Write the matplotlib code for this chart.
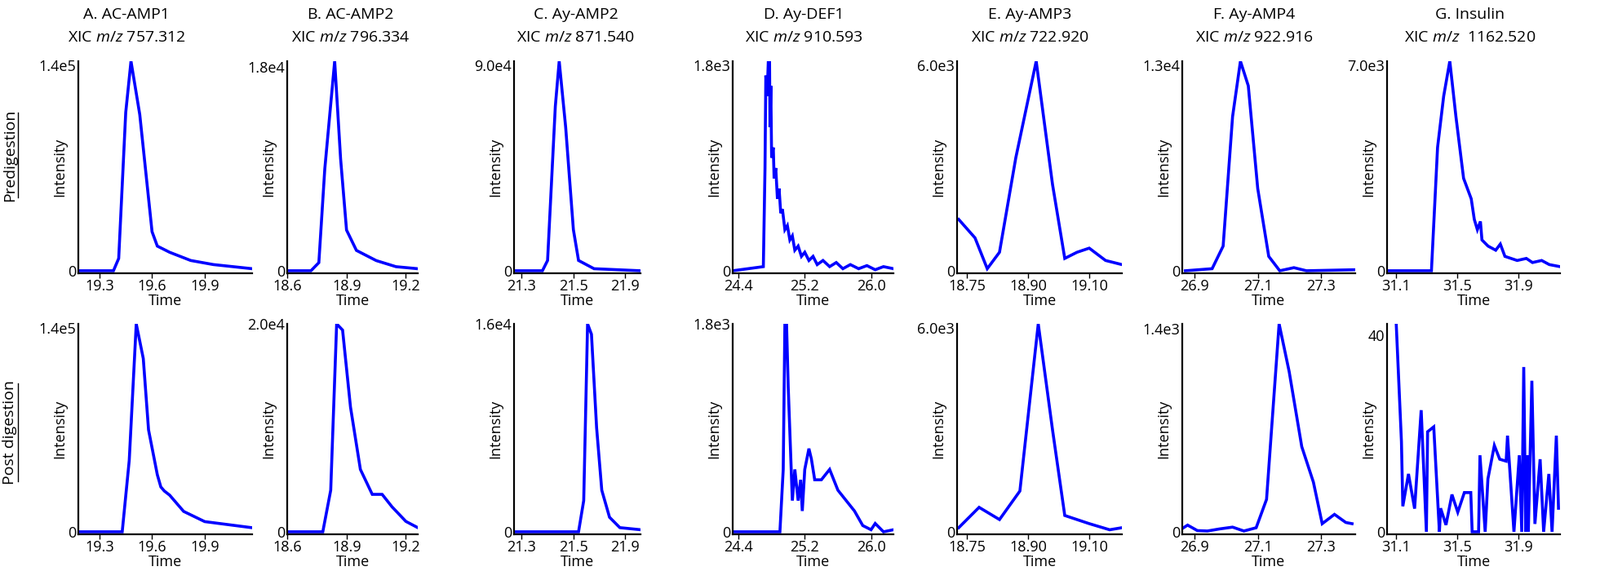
import matplotlib
matplotlib.use('Agg')
import matplotlib.pyplot as plt
from matplotlib.lines import Line2D

plt.rcParams['font.family'] = 'Open Sans'
plt.rcParams['mathtext.fontset'] = 'custom'
plt.rcParams['mathtext.it'] = 'Open Sans:italic'
plt.rcParams['mathtext.rm'] = 'Open Sans'

names = ['A. AC-AMP1', 'B. AC-AMP2', 'C. Ay-AMP2', 'D. Ay-DEF1', 'E. Ay-AMP3', 'F. Ay-AMP4', 'G. Insulin']
mz = ['757.312', '796.334', '871.540', '910.593', '722.920', '922.916', ' 1162.520']

xlims = [(19.18, 20.17), (18.6, 19.26), (21.27, 21.76), (24.33, 26.27), (18.726, 19.13), (26.86, 27.41), (31.04, 32.17)]
xticks = [[19.3, 19.6, 19.9], [18.6, 18.9, 19.2], [21.3, 21.5, 21.7], [24.4, 25.2, 26.0],
          [18.75, 18.90, 19.05], [26.9, 27.1, 27.3], [31.1, 31.5, 31.9]]
xticklabels = [['19.3', '19.6', '19.9'], ['18.6', '18.9', '19.2'], ['21.3', '21.5', '21.9'], ['24.4', '25.2', '26.0'],
               ['18.75', '18.90', '19.10'], ['26.9', '27.1', '27.3'], ['31.1', '31.5', '31.9']]

# y-axis max labels (top row, bottom row)
ymax_top = [1.4e5, 1.8e4, 9.0e4, 1.8e3, 6.0e3, 1.3e4, 7.0e3]
ymax_top_lbl = ['1.4e5', '1.8e4', '9.0e4', '1.8e3', '6.0e3', '1.3e4', '7.0e3']
ymax_bot = [1.4e5, 2.0e4, 1.6e4, 1.8e3, 6.0e3, 1.4e3, 40]
ymax_bot_lbl = ['1.4e5', '2.0e4', '1.6e4', '1.8e3', '6.0e3', '1.4e3', '40']

# ---- Predigestion traces (time, intensity as fraction of labelled max)
pre_a_t = [19.18, 19.38, 19.41, 19.45, 19.48, 19.53, 19.60, 19.63, 19.70, 19.82, 19.95, 20.17]
pre_a_i = [0, 0, 0.06, 0.77, 1.02, 0.76, 0.19, 0.12, 0.09, 0.05, 0.03, 0.01]
pre_b_t = [18.6, 18.72, 18.76, 18.79, 18.84, 18.87, 18.9, 18.95, 19.05, 19.15, 19.26]
pre_b_i = [0, 0, 0.04, 0.5, 1.03, 0.55, 0.2, 0.1, 0.05, 0.02, 0.01]
pre_c_t = [21.27, 21.38, 21.40, 21.43, 21.445, 21.47, 21.50, 21.52, 21.58, 21.76]
pre_c_i = [0, 0, 0.05, 0.8, 1.02, 0.7, 0.2, 0.05, 0.01, 0]
pre_d_t = [24.33, 24.70, 24.72, 24.73, 24.745, 24.76, 24.775, 24.78, 24.79, 24.80, 24.82, 24.83, 24.85,
           24.87, 24.89, 24.91, 24.93, 24.96, 24.99, 25.02, 25.05, 25.08, 25.12, 25.16, 25.2, 25.25,
           25.3, 25.35, 25.42, 25.5, 25.58, 25.66, 25.75, 25.85, 25.95, 26.05, 26.15, 26.27]
pre_d_i = [0, 0.02, 0.5, 0.95, 0.85, 1.02, 1.02, 0.7, 0.9, 0.55, 0.6, 0.45, 0.5,
           0.35, 0.4, 0.28, 0.3, 0.2, 0.22, 0.15, 0.17, 0.1, 0.12, 0.07, 0.09, 0.05,
           0.07, 0.03, 0.05, 0.02, 0.04, 0.01, 0.03, 0.01, 0.025, 0.005, 0.02, 0.01]
pre_e_t = [18.73, 18.77, 18.80, 18.83, 18.87, 18.92, 18.96, 18.99, 19.02, 19.05, 19.09, 19.13]
pre_e_i = [0.25, 0.16, 0.01, 0.09, 0.55, 1.02, 0.42, 0.06, 0.09, 0.11, 0.05, 0.03]
pre_f_t = [26.87, 26.955, 26.99, 27.02, 27.045, 27.07, 27.10, 27.135, 27.17, 27.215, 27.255, 27.41]
pre_f_i = [0, 0.01, 0.12, 0.75, 1.02, 0.9, 0.4, 0.07, 0.0, 0.015, 0.0, 0.005]
pre_g_t = [31.04, 31.33, 31.37, 31.41, 31.45, 31.49, 31.54, 31.59, 31.61, 31.63, 31.65, 31.66,
           31.70, 31.75, 31.78, 31.81, 31.89, 31.95, 31.99, 32.05, 32.10, 32.17]
pre_g_i = [0, 0, 0.6, 0.85, 1.02, 0.75, 0.45, 0.35, 0.25, 0.2, 0.24, 0.15,
           0.12, 0.1, 0.13, 0.07, 0.05, 0.06, 0.04, 0.05, 0.03, 0.02]

# ---- Post digestion traces
post_a_t = [19.18, 19.43, 19.47, 19.51, 19.55, 19.58, 19.63, 19.65, 19.67, 19.70, 19.78, 19.9, 20.17]
post_a_i = [0, 0, 0.35, 1.02, 0.85, 0.5, 0.28, 0.22, 0.2, 0.18, 0.1, 0.05, 0.02]
post_b_t = [18.6, 18.78, 18.82, 18.85, 18.88, 18.92, 18.97, 19.03, 19.08, 19.13, 19.2, 19.26]
post_b_i = [0, 0, 0.2, 1.0, 0.97, 0.6, 0.3, 0.18, 0.18, 0.12, 0.05, 0.02]
post_c_t = [21.27, 21.52, 21.54, 21.555, 21.57, 21.59, 21.61, 21.64, 21.68, 21.76]
post_c_i = [0, 0, 0.15, 1.0, 0.95, 0.5, 0.2, 0.07, 0.02, 0.01]
post_d_t = [24.33, 24.9, 24.94, 24.96, 24.98, 25.0, 25.05, 25.08, 25.12, 25.15, 25.17, 25.2, 25.25,
            25.28, 25.32, 25.4, 25.5, 25.6, 25.7, 25.8, 25.9, 26.0, 26.05, 26.15, 26.27]
post_d_i = [0, 0, 0.3, 1.0, 1.0, 0.7, 0.15, 0.3, 0.15, 0.25, 0.1, 0.3, 0.4,
            0.35, 0.25, 0.25, 0.3, 0.2, 0.15, 0.1, 0.03, 0.01, 0.04, 0.0, 0.01]
post_e_t = [18.73, 18.78, 18.83, 18.88, 18.925, 18.96, 18.99, 19.05, 19.10, 19.13]
post_e_i = [0.02, 0.12, 0.06, 0.2, 1.02, 0.5, 0.08, 0.04, 0.01, 0.02]
post_f_t = [26.85, 26.877, 26.908, 26.94, 26.978, 27.02, 27.056, 27.095, 27.128, 27.168, 27.2,
            27.24, 27.277, 27.305, 27.344, 27.38, 27.40]
post_f_i = [0.006, 0.033, 0.006, 0.004, 0.014, 0.023, 0.004, 0.02, 0.16, 1.026, 0.79,
            0.42, 0.245, 0.04, 0.086, 0.046, 0.04]
post_g_t = [31.10, 31.134, 31.143, 31.18, 31.22, 31.263, 31.297, 31.305, 31.345, 31.382, 31.39,
            31.425, 31.464, 31.502, 31.545, 31.587, 31.596, 31.638, 31.647, 31.681, 31.699, 31.741,
            31.776, 31.818, 31.827, 31.869, 31.904, 31.92, 31.933, 31.946, 31.955, 31.963, 31.986,
            32.006, 32.04, 32.063, 32.097, 32.118, 32.146, 32.16]
post_g_i = [1.06, 0.46, 0.13, 0.295, 0.118, 0.62, 0, 0.51, 0.535, 0, 0.12,
            0.035, 0.19, 0.10, 0.2, 0.2, 0, 0, 0.39, 0, 0.27, 0.44,
            0.37, 0.36, 0.49, 0, 0.39, 0, 0.84, 0, 0.39, 0, 0.77,
            0.04, 0.37, 0, 0.295, 0, 0.49, 0.12]

pre = [(pre_a_t, pre_a_i), (pre_b_t, pre_b_i), (pre_c_t, pre_c_i), (pre_d_t, pre_d_i),
       (pre_e_t, pre_e_i), (pre_f_t, pre_f_i), (pre_g_t, pre_g_i)]
post = [(post_a_t, post_a_i), (post_b_t, post_b_i), (post_c_t, post_c_i), (post_d_t, post_d_i),
        (post_e_t, post_e_i), (post_f_t, post_f_i), (post_g_t, post_g_i)]

W, H = 1961, 700
fig = plt.figure(figsize=(W / 100, H / 100), dpi=100)

lefts = [96, 352, 630, 898, 1173, 1449, 1700]
widths = [213, 160, 155, 197, 202, 212, 212]
rows = [(75, 335), (397, 655)]
centers = [155, 430, 706, 985, 1262, 1537, 1802]

for c in range(7):
    fig.text(centers[c] / W, 1 - 18 / H, names[c], ha='center', va='center', fontsize=14)
    fig.text(centers[c] / W, 1 - 46 / H, 'XIC $\\mathit{m/z}$ ' + mz[c], ha='center', va='center', fontsize=14)
    for r, (series, ymax, ylbl) in enumerate([(pre, ymax_top, ymax_top_lbl), (post, ymax_bot, ymax_bot_lbl)]):
        y0, y1 = rows[r]
        ax = fig.add_axes([lefts[c] / W, 1 - y1 / H, widths[c] / W, (y1 - y0) / H])
        t, rel = series[c]
        vals = [v * ymax[c] for v in rel]
        ax.plot(t, vals, color='#0000ff', lw=2.6, solid_joinstyle='miter')
        top = max(vals)
        ax.set_ylim(-0.012 * top, top)
        ax.set_xlim(*xlims[c])
        ax.set_yticks([0, ymax[c]])
        ax.set_yticklabels(['0', ylbl[c]])
        ax.set_xticks(xticks[c])
        ax.set_xticklabels(xticklabels[c])
        ax.tick_params(axis='y', length=0, pad=2, labelsize=13)
        ax.tick_params(axis='x', length=4, width=1, pad=1, labelsize=13)
        for s in ['top', 'right']:
            ax.spines[s].set_visible(False)
        for s in ['left', 'bottom']:
            ax.spines[s].set_linewidth(1.6)
        ax.set_xlabel('Time', fontsize=13, labelpad=0)
        ax.set_ylabel('Intensity', fontsize=13)
        ax.yaxis.set_label_coords(-14 / widths[c], 0.5)
        ax.set_clip_on(False)

# row labels, underlined
for label, yc, half in [('Predigestion', 190, 52), ('Post digestion', 530, 60)]:
    fig.text(12 / W, 1 - yc / H, label, rotation=90, ha='center', va='center', fontsize=14)
    fig.add_artist(Line2D([22 / W, 22 / W], [1 - (yc + half) / H, 1 - (yc - half) / H], color='black', lw=1))

plt.savefig('out.png', dpi=100)
